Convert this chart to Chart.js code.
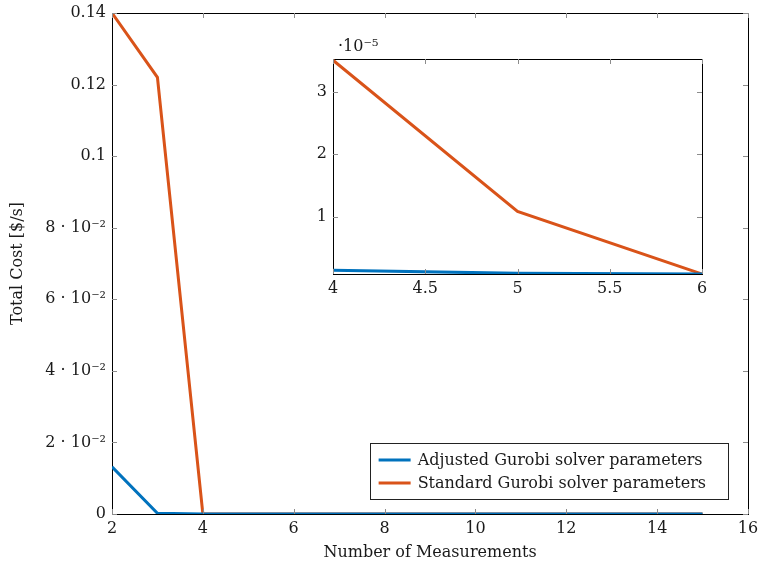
<!DOCTYPE html>
<html>
<head>
<meta charset="utf-8">
<script src="https://cdn.jsdelivr.net/npm/chart.js@4"></script>
<style>
  body { margin: 0; background: #fff; }
  #wrap { position: relative; width: 758px; height: 566px; }
  #main { position: absolute; left: 0; top: 0; }
  #inset { position: absolute; left: 290px; top: 28px; }
</style>
</head>
<body>
<div id="wrap">
  <canvas id="main" width="758" height="566"></canvas>
  <canvas id="inset" width="440" height="275"></canvas>
</div>
<script>
// donnees
const measurements = [2, 3, 4, 5, 6, 7, 8, 9, 10, 11, 12, 13, 14, 15];
const adjustedCost = [0.0132, 0.0002, 1.5e-6, 1.0e-6, 0.9e-6, 0.9e-6, 0.9e-6, 0.9e-6, 0.9e-6, 0.9e-6, 0.9e-6, 0.9e-6, 0.9e-6, 0.9e-6];
const standardCost = [0.14, 0.122, 3.5e-5, 1.09e-5, 0.9e-6, 0.9e-6, 0.9e-6, 0.9e-6, 0.9e-6, 0.9e-6, 0.9e-6, 0.9e-6, 0.9e-6, 0.9e-6];
const seriesNames = ["Adjusted Gurobi solver parameters", "Standard Gurobi solver parameters"];
const seriesColors = ["#0072BD", "#D95319"];

const xTicks = [2, 4, 6, 8, 10, 12, 14, 16];
const yTicks = [0, 0.02, 0.04, 0.06, 0.08, 0.1, 0.12, 0.14];
const yTickLabels = ["0", "2 · 10⁻²", "4 · 10⁻²", "6 · 10⁻²", "8 · 10⁻²", "0.1", "0.12", "0.14"];

const insetXTicks = [4, 4.5, 5, 5.5, 6];
const insetXTickLabels = ["4", "4.5", "5", "5.5", "6"];
const insetYTicks = [1e-5, 2e-5, 3e-5];
const insetYTickLabels = ["1", "2", "3"];
const insetExponent = "·10⁻⁵";
const insetRange = [4, 6];

const FONT = "'DejaVu Serif', 'Liberation Serif', serif";
const FS = 16;
const TXT = "#1a1a1a";

function toPoints(xs, ys, lo, hi) {
  let pts = [];
  xs.forEach((x, i) => {
    if (lo === undefined || (x >= lo && x <= hi)) pts.push({ x: x, y: ys[i] });
  });
  return pts;
}

function makeDatasets(lo, hi) {
  return [adjustedCost, standardCost].map((vals, i) => ({
    label: seriesNames[i],
    data: toPoints(measurements, vals, lo, hi),
    borderColor: seriesColors[i],
    backgroundColor: seriesColors[i],
    borderWidth: 3,
    pointRadius: 0,
    tension: 0,
  }));
}

// pas de marge automatique pour les etiquettes du bord
function noPad(s) {
  s.paddingLeft = 0; s.paddingRight = 0;
  s.paddingTop = 0; s.paddingBottom = 0;
}

// cadre noir + petites graduations vers l'interieur
const framePlugin = {
  id: "frame",
  afterDatasetsDraw(chart) {
    const { ctx, chartArea: a, scales } = chart;
    ctx.save();
    ctx.strokeStyle = "#8c8c8c";
    ctx.lineWidth = 1;
    scales.x.ticks.forEach((t) => {
      let px = Math.round(scales.x.getPixelForValue(t.value)) + 0.5;
      ctx.beginPath();
      ctx.moveTo(px, a.bottom); ctx.lineTo(px, a.bottom - 5);
      ctx.moveTo(px, a.top); ctx.lineTo(px, a.top + 5);
      ctx.stroke();
    });
    scales.y.ticks.forEach((t) => {
      let py = Math.round(scales.y.getPixelForValue(t.value)) + 0.5;
      ctx.beginPath();
      ctx.moveTo(a.left, py); ctx.lineTo(a.left + 5, py);
      ctx.moveTo(a.right, py); ctx.lineTo(a.right - 5, py);
      ctx.stroke();
    });
    ctx.restore();
  },
  beforeDatasetsDraw(chart) {
    const { ctx, chartArea: a } = chart;
    ctx.save();
    ctx.strokeStyle = "#000";
    ctx.lineWidth = 1;
    ctx.strokeRect(Math.round(a.left) + 0.5, Math.round(a.top) + 0.5,
      Math.round(a.right - a.left), Math.round(a.bottom - a.top));
    ctx.restore();
  },
};

// legende dans le coin en bas a droite
const legendPlugin = {
  id: "boxLegend",
  afterDraw(chart) {
    const { ctx, chartArea: a } = chart;
    ctx.save();
    ctx.font = FS + "px " + FONT;
    let w = 0;
    chart.data.datasets.forEach((ds) => { w = Math.max(w, ctx.measureText(ds.label).width); });
    let boxW = w + 70, boxH = 56;
    let x0 = a.right - 20 - boxW, y0 = a.bottom - 15 - boxH;
    ctx.fillStyle = "#fff";
    ctx.fillRect(x0, y0, boxW, boxH);
    ctx.strokeStyle = "#222";
    ctx.lineWidth = 1;
    ctx.strokeRect(Math.round(x0) + 0.5, Math.round(y0) + 0.5, Math.round(boxW), boxH);
    chart.data.datasets.forEach((ds, i) => {
      let cy = y0 + 17 + i * 23;
      ctx.strokeStyle = ds.borderColor;
      ctx.lineWidth = 3;
      ctx.beginPath();
      ctx.moveTo(x0 + 9, cy); ctx.lineTo(x0 + 41, cy);
      ctx.stroke();
      ctx.fillStyle = TXT;
      ctx.textBaseline = "middle";
      ctx.fillText(ds.label, x0 + 48, cy + 1);
    });
    ctx.restore();
  },
};

const exponentPlugin = {
  id: "exponent",
  afterDraw(chart) {
    const { ctx, chartArea: a } = chart;
    ctx.save();
    ctx.font = FS + "px " + FONT;
    ctx.fillStyle = TXT;
    ctx.textBaseline = "alphabetic";
    ctx.fillText(insetExponent, a.left + 5, a.top - 8);
    ctx.restore();
  },
};

function axisTickFont(size) {
  return { family: FONT, size: size };
}

new Chart(document.getElementById("main"), {
  type: "line",
  data: { datasets: makeDatasets() },
  plugins: [framePlugin, legendPlugin],
  options: {
    responsive: false,
    animation: false,
    layout: { padding: { left: 6, right: 10, top: 13, bottom: 0 } },
    plugins: { legend: { display: false }, tooltip: { enabled: false } },
    scales: {
      x: {
        type: "linear",
        min: 2, max: 16,
        afterBuildTicks: (s) => { s.ticks = xTicks.map((v) => ({ value: v })); },
        afterFit: (s) => { s.height = 52; noPad(s); },
        grid: { display: false, drawTicks: false },
        border: { display: false },
        ticks: { padding: 5, color: TXT, font: axisTickFont(FS), maxRotation: 0 },
        title: { display: true, text: "Number of Measurements", color: TXT, font: axisTickFont(FS), padding: { top: 2, bottom: 4 } },
      },
      y: {
        type: "linear",
        min: 0, max: 0.14,
        afterBuildTicks: (s) => { s.ticks = yTicks.map((v) => ({ value: v })); },
        afterFit: (s) => { s.width = 106; noPad(s); },
        grid: { display: false, drawTicks: false },
        border: { display: false },
        ticks: {
          padding: 6, color: TXT, font: axisTickFont(FS),
          callback: (v, i) => yTickLabels[i],
        },
        title: { display: true, text: "Total Cost [$/s]", color: TXT, font: axisTickFont(FS), padding: { top: 2, bottom: 2 } },
      },
    },
  },
});

new Chart(document.getElementById("inset"), {
  type: "line",
  data: { datasets: makeDatasets(insetRange[0], insetRange[1]) },
  plugins: [framePlugin, exponentPlugin],
  options: {
    responsive: false,
    animation: false,
    layout: { padding: { left: 0, right: 28, top: 31, bottom: 0 } },
    plugins: { legend: { display: false }, tooltip: { enabled: false } },
    scales: {
      x: {
        type: "linear",
        min: insetRange[0], max: insetRange[1],
        afterBuildTicks: (s) => { s.ticks = insetXTicks.map((v) => ({ value: v })); },
        afterFit: (s) => { s.height = 29; noPad(s); },
        grid: { display: false, drawTicks: false },
        border: { display: false },
        ticks: {
          padding: 5, color: TXT, font: axisTickFont(FS), maxRotation: 0,
          callback: (v, i) => insetXTickLabels[i],
        },
      },
      y: {
        type: "linear",
        min: 0.09e-5, max: 3.52e-5,
        afterBuildTicks: (s) => { s.ticks = insetYTicks.map((v) => ({ value: v })); },
        afterFit: (s) => { s.width = 43; noPad(s); },
        grid: { display: false, drawTicks: false },
        border: { display: false },
        ticks: {
          padding: 6, color: TXT, font: axisTickFont(FS),
          callback: (v, i) => insetYTickLabels[i],
        },
      },
    },
  },
});
</script>
</body>
</html>
